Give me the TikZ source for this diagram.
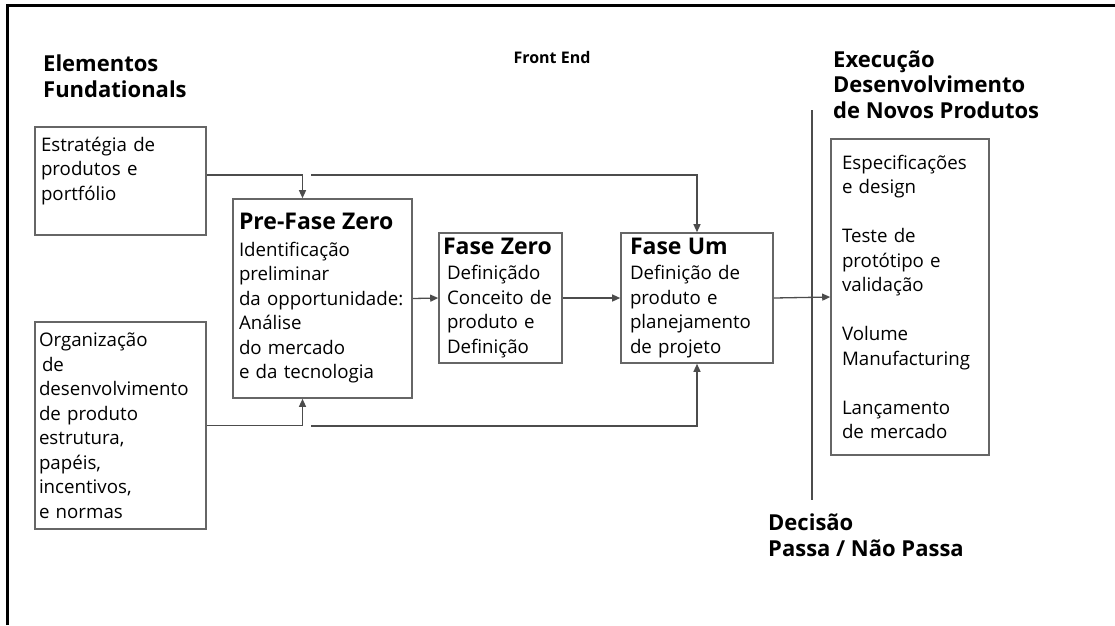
\documentclass[tikz,border=0pt]{standalone}
\usepackage{fontspec}
\setmainfont{Open Sans}
\usetikzlibrary{arrows.meta}

\newcommand\bodysize{\fontsize{18.7}{24.5}\selectfont}
\newcommand\headsize{\fontsize{22}{25.5}\selectfont\bfseries}
\newcommand\phasesize{\fontsize{23}{26}\selectfont\bfseries}

\begin{document}
\begin{tikzpicture}[x=1pt,y=-1pt]
  \tikzset{stagebox/.style={draw=black!60,line width=1.6pt,inner ysep=0pt,align=left,font=\bodysize}}
  \tikzset{flowline/.style={draw=black!70,line width=1.3pt,-{Triangle[length=8pt,width=7pt]}}}
  \tikzset{heading/.style={anchor=base west,align=left,font=\headsize,inner sep=0pt}}

  \useasboundingbox (0,0) rectangle (1115,625);
  \draw[line width=3pt] (7,625) -- (7,5) -- (1115,5);

  % column headings (base = last line)
  \node[heading] (fund) at (43,97) {Elementos\\Fundationals};
  \node[font=\fontsize{16}{18}\selectfont\bfseries] (front) at (552,57) {Front End};
  \node[heading] (ndp) at (833,118) {Execução\\Desenvolvimento\\de Novos Produtos};
  \node[heading] (gate) at (768,556) {Decisão\\Passa / Não Passa};

  % decision line
  \coordinate (gtop) at (812,110);
  \coordinate (gbot) at (812,500);
  \draw[draw=black!70,line width=1.3pt] (gtop) -- (gbot);

  % boxes
  \node[stagebox,minimum width=171pt,minimum height=108pt,text width=159pt,inner xsep=6pt] (strat) at (120.5,181)
    {Estratégia de\\produtos e\\portfólio\\~};
  \node[stagebox,minimum width=171pt,minimum height=207pt,text width=163pt,inner xsep=4pt] (org) at (120.5,425.5)
    {Organização\\\hspace*{3pt}de\\desenvolvimento\\de produto\\estrutura,\\papéis,\\incentivos,\\e normas};
  \node[stagebox,minimum width=179pt,minimum height=199pt,text width=167pt,inner xsep=6pt] (prefase) at (322.5,298.5)
    {{\phasesize Pre-Fase Zero}\\[2pt]Identificação\\preliminar\\da opportunidade:\\Análise\\do mercado\\e da tecnologia};
  \node[stagebox,minimum width=123pt,minimum height=130pt,text width=115pt,inner xsep=4pt] (fasezero) at (500.5,298)
    {{\phasesize Fase Zero}\\[1pt]\hspace*{4pt}Definiçãdo\\\hspace*{4pt}Conceito de\\\hspace*{4pt}produto e\\\hspace*{4pt}Definição};
  \node[stagebox,minimum width=152pt,minimum height=130pt,text width=134pt,inner xsep=9pt] (faseum) at (697,298)
    {{\phasesize Fase Um}\\[1pt]Definição de\\produto e\\planejamento\\de projeto};
  \node[stagebox,minimum width=158pt,minimum height=316pt,text width=136pt,inner xsep=11pt] (exec) at (910,297)
    {Especificações\\e design\\[24.5pt]Teste de\\protótipo e\\validação\\[24.5pt]Volume\\Manufacturing\\[24.5pt]Lançamento\\de mercado};

  % flow
  \draw[flowline] ([yshift=6pt]strat.east) -| ([xshift=-20pt]prefase.north);
  \coordinate (topsplit) at (311,175);
  \draw[flowline] (topsplit) -| (faseum.north);
  \draw[flowline] (org.east) -| ([xshift=-20pt]prefase.south);
  \coordinate (botsplit) at (311,426);
  \draw[flowline] (botsplit) -| (faseum.south);

  \draw[flowline] (prefase.east) -- (fasezero.west);
  \draw[flowline] (fasezero.east) -- (faseum.west);
  \draw[flowline] (faseum.east) -- (exec.west);
\end{tikzpicture}
\end{document}
